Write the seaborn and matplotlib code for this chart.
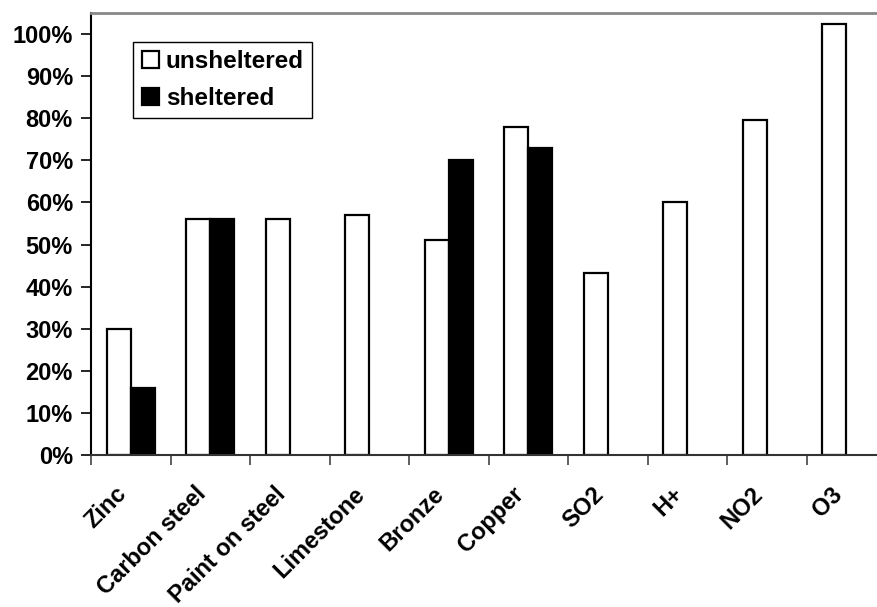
import numpy as np
import pandas as pd
import matplotlib
matplotlib.use("Agg")
import matplotlib.pyplot as plt
import matplotlib.transforms as mtransforms
import seaborn as sns
from matplotlib.ticker import FixedLocator, PercentFormatter

materials = ["Zinc", "Carbon steel", "Paint on steel", "Limestone", "Bronze",
             "Copper", "SO2", "H+", "NO2", "O3"]
unsheltered = [30, 56, 56, 57, 51, 78, 43.3, 60, 79.5, 102.3]
sheltered = [16, 56, np.nan, np.nan, 70, 73, np.nan, np.nan, np.nan, np.nan]
series_names = ["unsheltered", "sheltered"]
y_ticks = [0, 10, 20, 30, 40, 50, 60, 70, 80, 90, 100]

df = pd.DataFrame({
    "material": materials * 2,
    "exposure": [series_names[0]] * len(materials) + [series_names[1]] * len(materials),
    "value": unsheltered + sheltered,
})

sns.set_theme(style="white")
plt.rcParams["font.family"] = ["Liberation Sans", "DejaVu Sans"]
plt.rcParams["font.weight"] = "bold"
plt.rcParams["text.color"] = "black"
plt.rcParams["xtick.color"] = "black"
plt.rcParams["ytick.color"] = "black"
plt.rcParams["xtick.labelcolor"] = "black"
plt.rcParams["ytick.labelcolor"] = "black"

FS = 17

fig = plt.figure(figsize=(8.77, 6.07), dpi=100)
ax = fig.add_axes([91 / 877, 1 - 455 / 607, 795 / 877, 442 / 607])

sns.barplot(data=df, x="material", y="value", hue="exposure",
            hue_order=series_names, order=materials,
            palette={"unsheltered": "white", "sheltered": "black"},
            edgecolor="black", linewidth=1.6, width=0.6, gap=0,
            errorbar=None, ax=ax)

ax.set_xlim(-0.5, len(materials) - 0.5)
ax.set_ylim(0, 105)
ax.set_xlabel("")
ax.set_ylabel("")

ax.yaxis.set_major_locator(FixedLocator(y_ticks))
ax.yaxis.set_major_formatter(PercentFormatter(decimals=0))
ax.tick_params(axis="y", which="major", direction="out", length=7, width=1.2,
               color="black", labelcolor="black", left=True, pad=6, labelsize=FS)
for lbl in ax.get_yticklabels():
    lbl.set_fontweight("bold")

ax.set_xticks(range(len(materials)))
ax.set_xticklabels(materials, rotation=45, ha="right", rotation_mode="anchor",
                   fontsize=FS, fontweight="bold", color="black")
ax.tick_params(axis="x", which="major", length=0, pad=14, labelcolor="black")
shift = mtransforms.ScaledTranslation(-16 / 100, -8 / 100, fig.dpi_scale_trans)
for lbl in ax.get_xticklabels():
    lbl.set_transform(lbl.get_transform() + shift)
ax.xaxis.set_minor_locator(FixedLocator(np.arange(-0.5, len(materials), 1.0)))
ax.tick_params(axis="x", which="minor", direction="out", length=7, width=1.2,
               color="#444444", bottom=True)

for side in ["left", "bottom", "top", "right"]:
    ax.spines[side].set_visible(True)
ax.spines["left"].set_color("black")
ax.spines["left"].set_linewidth(1.5)
ax.spines["bottom"].set_color("#333333")
ax.spines["bottom"].set_linewidth(1.5)
ax.spines["top"].set_color("#888888")
ax.spines["top"].set_linewidth(2)
ax.spines["right"].set_visible(False)

leg = ax.legend(loc="upper left", bbox_to_anchor=(0.053, 0.935), frameon=True,
                fancybox=False, edgecolor="black", framealpha=1,
                prop={"size": 17.5, "weight": "bold"},
                handlelength=0.7, handleheight=0.7, handletextpad=0.3,
                borderpad=0.35, labelspacing=0.55, borderaxespad=0)
leg.get_frame().set_linewidth(1.0)
for txt in leg.get_texts():
    txt.set_color("black")

fig.savefig("out.png", dpi=100)
